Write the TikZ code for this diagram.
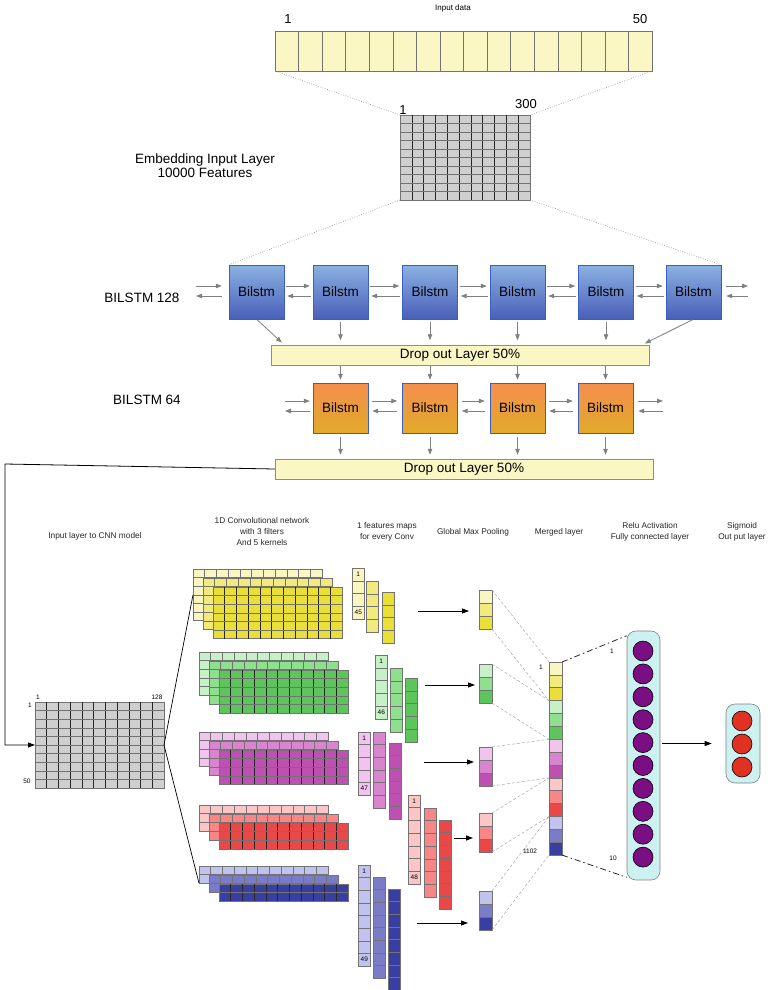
\documentclass[tikz,border=0pt]{standalone}
\usepackage{fontspec}
\setmainfont{Liberation Sans}
\usetikzlibrary{positioning,calc,arrows.meta}

\definecolor{paleyellow}{HTML}{FBF7C4}
\definecolor{gridgray}{HTML}{CFCFCF}
\definecolor{lstmtop}{HTML}{8AB0E2}
\definecolor{lstmbot}{HTML}{4A60B8}
\definecolor{lstmedge}{HTML}{3D5CC4}
\definecolor{orgtop}{HTML}{F48E4C}
\definecolor{orgbot}{HTML}{E2AA2A}
\definecolor{ylwA}{HTML}{FAF6C2}\definecolor{ylwB}{HTML}{F3EA7E}\definecolor{ylwC}{HTML}{EADF38}
\definecolor{grnA}{HTML}{C6F0C6}\definecolor{grnB}{HTML}{8FE08E}\definecolor{grnC}{HTML}{5EC55C}
\definecolor{pnkA}{HTML}{F0C4EC}\definecolor{pnkB}{HTML}{D884CE}\definecolor{pnkC}{HTML}{BE50B2}
\definecolor{redA}{HTML}{FCC6C6}\definecolor{redB}{HTML}{F88686}\definecolor{redC}{HTML}{E84848}
\definecolor{bluA}{HTML}{C2C2EE}\definecolor{bluB}{HTML}{7A7CC8}\definecolor{bluC}{HTML}{383EA2}
\definecolor{fcfill}{HTML}{CDF1F1}
\definecolor{reluviolet}{HTML}{7A0E82}
\definecolor{sigred}{HTML}{E03222}

% block of cells: [line style]{name}{x}{y}{width}{height}{cols}{rows}{fill}
\newcommand{\cellgrid}[9][cellline]{%
  \node[cellbox, fill=#9, minimum width=#5pt, minimum height=#6pt, anchor=north west] (#2) at (#3,#4) {};
  \pgfmathtruncatemacro\ncol{#7-1}
  \pgfmathtruncatemacro\nrow{#8-1}
  \ifnum\ncol>0
    \foreach \k in {1,...,\ncol}
      \draw[#1] ($(#2.north west)!{\k/#7}!(#2.north east)$) -- ($(#2.south west)!{\k/#7}!(#2.south east)$);
  \fi
  \ifnum\nrow>0
    \foreach \k in {1,...,\nrow}
      \draw[cellline] ($(#2.north west)!{\k/#8}!(#2.south west)$) -- ($(#2.north east)!{\k/#8}!(#2.south east)$);
  \fi
}
% one column of cells: {name}{x}{y}{height}{cells}{fill}
\newcommand{\cellcolumn}[6]{\cellgrid{#1}{#2}{#3}{12.5}{#4}{1}{#5}{#6}}
% three stacked filters: {prefix}{x}{y}{rows}{light}{mid}{dark}
\newcommand{\filterstack}[7]{%
  \pgfmathsetmacro\stackh{#4*8.6}
  \cellgrid{#1a}{#2}{#3}{129}{\stackh}{11}{#4}{#5}
  \cellgrid{#1b}{#2+10}{#3+9}{129}{\stackh}{11}{#4}{#6}
  \cellgrid[darkline]{#1c}{#2+20}{#3+18}{129}{\stackh}{11}{#4}{#7}
}
% pooled values: {name}{y}{light}{mid}{dark}
\newcommand{\poolbox}[5]{%
  \foreach \c [count=\i from 0] in {#3,#4,#5}
    \node[cellbox, fill=\c, minimum width=13pt, minimum height=13pt, anchor=north west] (#1\i) at (479,#2+\i*13) {};
}

\begin{document}
\begin{tikzpicture}[x=1pt,y=-1pt,
    cellbox/.style={draw=black!55, inner sep=0pt, outer sep=0pt, line width=0.5pt},
    cellline/.style={draw=black!55, line width=0.5pt},
    darkline/.style={draw=black!85, line width=0.6pt},
    lstm/.style={draw=lstmedge, top color=lstmtop, bottom color=lstmbot, minimum width=55pt,
      minimum height=54pt, inner sep=0pt, font=\fontsize{13.5}{15}\selectfont},
    lstmorange/.style={lstm, top color=orgtop, bottom color=orgbot, minimum height=50pt},
    dropbox/.style={draw=black!45, fill=paleyellow, minimum width=378pt, minimum height=20pt,
      inner sep=0pt, font=\fontsize{13.5}{15}\selectfont},
    garrow/.style={draw=black!50, line width=0.8pt, -{Triangle[length=6pt,width=4.5pt]}},
    barrow/.style={draw=black, line width=0.8pt, -{Triangle[length=7pt,width=5pt]}},
    dots/.style={draw=black!40, line width=0.6pt, dash pattern=on 0.8pt off 1.6pt},
    poolline/.style={draw=black!35, line width=0.5pt, dash pattern=on 3pt off 2pt},
    dashdot/.style={draw=black!85, line width=0.8pt, dash pattern=on 6pt off 3pt on 1.5pt off 3pt},
    fcbox/.style={draw=black!50, fill=fcfill, rounded corners=9pt, inner sep=0pt, line width=0.6pt},
    relu/.style={circle, draw=black, fill=reluviolet, minimum size=20pt, inner sep=0pt, line width=0.6pt},
    sigm/.style={circle, draw=black, fill=sigred, minimum size=20pt, inner sep=0pt, line width=0.6pt},
    biglbl/.style={font=\fontsize{13.5}{14}\selectfont, align=center},
    numlbl/.style={font=\fontsize{13}{14}\selectfont, inner sep=0pt, anchor=base},
    sectlbl/.style={font=\fontsize{8.3}{11}\selectfont, align=center, text=black!85},
    tinylbl/.style={font=\fontsize{6.5}{7}\selectfont, inner sep=0pt}]

  \useasboundingbox (0,0) rectangle (770,990);

  % input and embedding
  \node[font=\fontsize{8}{9}\selectfont, inner sep=0pt, anchor=base] (inlbl) at (453,10.5) {Input data};
  \cellgrid{input}{275}{31}{377}{40}{16}{1}{paleyellow}
  \node[numlbl] (infirst) at (288,23.5) {1};
  \node[numlbl] (inlast) at (640,23.5) {50};
  \cellgrid[darkline]{emb}{400}{115}{130}{85}{11}{10}{gridgray}
  \node[numlbl] (embfirst) at (403,114) {1};
  \node[numlbl] (emblast) at (526,108) {300};
  \node[biglbl] (emblbl) at (205,166) {Embedding Input Layer\\10000 Features};
  \draw[dots] (input.south west) -- (emb.north west);
  \draw[dots] (input.south east) -- (emb.north east);

  % BILSTM 128
  \node[biglbl] (lstmlblA) at (142,298) {BILSTM 128};
  \foreach \x [count=\i] in {256.5,340.5,430,517.5,606,693.5}
    \node[lstm] (lstmA\i) at (\x,292) {Bilstm};
  \draw[dots] (emb.south west) -- (lstmA1.north west);
  \draw[dots] (emb.south east) -- (lstmA6.north east);
  \foreach \i [evaluate=\i as \j using int(\i+1)] in {1,...,5} {
    \draw[garrow, shorten <=2pt, shorten >=3pt] ([yshift=6pt]lstmA\i.east) -- ([yshift=6pt]lstmA\j.west);
    \draw[garrow, shorten <=2pt, shorten >=3pt] ([yshift=-4pt]lstmA\j.west) -- ([yshift=-4pt]lstmA\i.east);
  }
  \coordinate (inA) at (196,292);
  \coordinate (outA) at (748,292);
  \draw[garrow, shorten >=7pt] ([yshift=6pt]inA) -- ([yshift=6pt]lstmA1.west);
  \draw[garrow, shorten <=7pt] ([yshift=-4pt]lstmA1.west) -- ([yshift=-4pt]inA);
  \draw[garrow, shorten <=5pt] ([yshift=6pt]lstmA6.east) -- ([yshift=6pt]outA);
  \draw[garrow, shorten >=5pt] ([yshift=-4pt]outA) -- ([yshift=-4pt]lstmA6.east);

  \node[dropbox] (drop1) at (460,355.5) {Drop out Layer 50\%};
  \draw[garrow, shorten <=1pt, shorten >=4pt] (lstmA1.south) -- ([xshift=14pt]drop1.north west);
  \foreach \i in {2,...,5}
    \draw[garrow, shorten <=3pt, shorten >=5pt] (lstmA\i.south) -- (lstmA\i.south |- drop1.north);
  \draw[garrow, shorten <=1pt, shorten >=4pt] (lstmA6.south) -- ([xshift=-8pt]drop1.north east);

  % BILSTM 64
  \node[biglbl] (lstmlblB) at (147,400) {BILSTM 64};
  \foreach \x [count=\i] in {340.5,430,517.5,605.5}
    \node[lstmorange] (lstmB\i) at (\x,408) {Bilstm};
  \foreach \i [evaluate=\i as \j using int(\i+1)] in {1,...,3} {
    \draw[garrow, shorten <=4pt, shorten >=5pt] ([yshift=7pt]lstmB\i.east) -- ([yshift=7pt]lstmB\j.west);
    \draw[garrow, shorten <=5pt, shorten >=4pt] ([yshift=-3pt]lstmB\j.west) -- ([yshift=-3pt]lstmB\i.east);
  }
  \coordinate (inB) at (285,408);
  \coordinate (outB) at (663,408);
  \draw[garrow, shorten >=3pt] ([yshift=7pt]inB) -- ([yshift=7pt]lstmB1.west);
  \draw[garrow, shorten <=3pt] ([yshift=-3pt]lstmB1.west) -- ([yshift=-3pt]inB);
  \draw[garrow, shorten <=5pt] ([yshift=7pt]lstmB4.east) -- ([yshift=7pt]outB);
  \draw[garrow, shorten >=5pt] ([yshift=-3pt]outB) -- ([yshift=-3pt]lstmB4.east);
  \foreach \i in {1,...,4}
    \draw[garrow, shorten >=3pt] (lstmB\i.north |- drop1.south) -- (lstmB\i.north);

  \node[dropbox] (drop2) at (464,469) {Drop out Layer 50\%};
  \foreach \i in {1,...,4}
    \draw[garrow, shorten <=4pt, shorten >=4pt] (lstmB\i.south) -- (lstmB\i.south |- drop2.north);

  % CNN part
  \node[sectlbl] (lblin) at (95,536) {Input layer to CNN model};
  \node[sectlbl] (lblconv) at (262,532) {1D Convolutional network\\with 3 filters\\And 5 kernels};
  \node[sectlbl] (lblmaps) at (387,532) {1 features maps\\for every Conv};
  \node[sectlbl] (lblpool) at (473,532) {Global Max Pooling};
  \node[sectlbl] (lblmerge) at (559,532) {Merged layer};
  \node[sectlbl] (lblfc) at (650,532) {Relu Activation\\Fully connected layer};
  \node[sectlbl] (lblout) at (742,532) {Sigmoid\\Out put layer};

  \cellgrid[darkline]{cnnin}{35}{702}{129}{86}{11}{10}{gridgray}
  \node[tinylbl] at (38,697) {1};
  \node[tinylbl] at (157,697) {128};
  \node[tinylbl] at (30,705) {1};
  \node[tinylbl] at (27,781) {50};
  \coordinate (bendA) at (5,464);
  \draw[barrow] (drop2.west) -- (bendA) -- (bendA |- cnnin.west) -- (cnnin.west);

  \filterstack{ylw}{193}{569}{6}{ylwA}{ylwB}{ylwC}
  \filterstack{grn}{199}{652}{5}{grnA}{grnB}{grnC}
  \filterstack{pnk}{199}{732}{4}{pnkA}{pnkB}{pnkC}
  \filterstack{red}{199}{805}{3}{redA}{redB}{redC}
  \filterstack{blu}{199}{866}{2}{bluA}{bluB}{bluC}
  \draw[black, line width=0.7pt] (ylwa.west) -- (cnnin.east) -- (blua.south west);

  % feature maps
  \cellcolumn{ylwf1}{352}{568}{51}{4}{ylwA}
  \cellcolumn{ylwf2}{366}{581}{51}{4}{ylwB}
  \cellcolumn{ylwf3}{382}{592}{51}{4}{ylwC}
  \cellcolumn{grnf1}{375}{655}{64}{5}{grnA}
  \cellcolumn{grnf2}{390}{668}{64}{5}{grnB}
  \cellcolumn{grnf3}{405}{678}{64}{5}{grnC}
  \cellcolumn{pnkf1}{358}{732}{63}{5}{pnkA}
  \cellcolumn{pnkf2}{373}{732}{76}{6}{pnkB}
  \cellcolumn{pnkf3}{389}{743}{76}{6}{pnkC}
  \cellcolumn{redf1}{408}{795}{89}{7}{redA}
  \cellcolumn{redf2}{424}{808}{89}{7}{redB}
  \cellcolumn{redf3}{439}{820}{89}{7}{redC}
  \cellcolumn{bluf1}{358}{865}{101}{8}{bluA}
  \cellcolumn{bluf2}{373}{877}{101}{8}{bluB}
  \cellcolumn{bluf3}{388}{889}{101}{8}{bluC}
  \foreach \f/\n in {ylwf1/45,grnf1/46,pnkf1/47,redf1/48,bluf1/49} {
    \node[tinylbl] at ($(\f.north)+(0,6.4)$) {1};
    \node[tinylbl] at ($(\f.south)+(0,-6.4)$) {\n};
  }

  % global max pooling
  \poolbox{ylwp}{590}{ylwA}{ylwB}{ylwC}
  \poolbox{grnp}{664}{grnA}{grnB}{grnC}
  \poolbox{pnkp}{747}{pnkA}{pnkB}{pnkC}
  \poolbox{redp}{813}{redA}{redB}{redC}
  \poolbox{blup}{891}{bluA}{bluB}{bluC}
  \coordinate (ylwgo) at (418,611);
  \coordinate (grngo) at (425,685);
  \coordinate (pnkgo) at (424,762);
  \coordinate (redgo) at (454,838);
  \coordinate (blugo) at (417,923);
  \draw[barrow, shorten >=10pt] (ylwgo) -- (ylwgo -| ylwp1.west);
  \draw[barrow, shorten >=4pt] (grngo) -- (grngo -| grnp1.west);
  \draw[barrow, shorten >=5pt] (pnkgo) -- (pnkgo -| pnkp1.west);
  \draw[barrow, shorten >=6pt] (redgo) -- (redgo -| redp1.west);
  \draw[barrow, shorten >=11pt] (blugo) -- (blugo -| blup1.west);

  % merged layer
  \foreach \c [count=\i from 0] in {ylwA,ylwB,ylwC,grnA,grnB,grnC,pnkA,pnkB,pnkC,redA,redB,redC,bluA,bluB,bluC}
    \node[cellbox, fill=\c, minimum width=13pt, minimum height=12.87pt, anchor=north west] (m\i) at (549,662+\i*12.87) {};
  \node[tinylbl] at (541,667) {1};
  \node[tinylbl] at (530,851) {1102};
  \foreach \p/\a/\b in {ylwp/0/2,grnp/3/5,pnkp/6/8,redp/9/11,blup/12/14} {
    \draw[poolline] (\p0.north east) -- (m\a.north west);
    \draw[poolline] (\p2.south east) -- (m\b.south west);
  }

  % fully connected and output
  \node[fcbox, minimum width=33pt, minimum height=249pt] (fc) at (643.5,755.5) {};
  \foreach \i in {1,...,10}
    \node[relu] (nr\i) at (643,628.1+\i*22.9) {};
  \node[tinylbl] at (612,651) {1};
  \node[tinylbl] at (613,858) {10};
  \draw[dashdot] (m0.north east) -- ([yshift=-5pt]fc.north west);
  \draw[dashdot] (m14.south east) -- ([yshift=3pt]fc.south west);

  \node[fcbox, minimum width=34pt, minimum height=79pt] (out) at (743,743.5) {};
  \foreach \i in {1,...,3}
    \node[sigm] (ns\i) at (742,698+\i*23) {};
  \draw[barrow, shorten <=2pt, shorten >=14pt] (fc.east |- out.west) -- (out.west);
\end{tikzpicture}
\end{document}
